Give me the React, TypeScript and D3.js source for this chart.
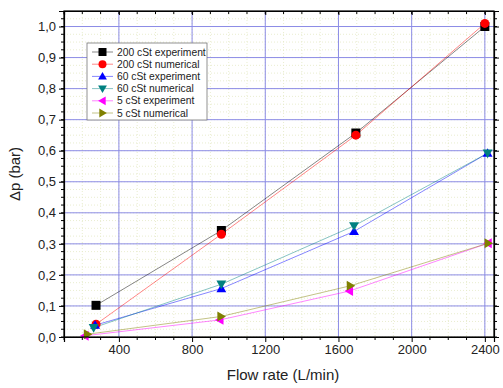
import React, { useEffect, useRef } from 'react';
import * as d3 from 'd3';

// Flow rate (L/min) and pressure drop (bar) per series
const exp200X = [275, 960, 1695, 2400];
const exp200Y = [0.102, 0.343, 0.657, 1.0];
const num200X = [275, 960, 1695, 2400];
const num200Y = [0.041, 0.331, 0.65, 1.01];
const exp60X = [270, 960, 1685, 2415];
const exp60Y = [0.038, 0.156, 0.34, 0.592];
const num60X = [262, 960, 1685, 2415];
const num60Y = [0.03, 0.17, 0.358, 0.592];
const exp5X = [215, 952, 1660, 2418];
const exp5Y = [0.004, 0.055, 0.148, 0.302];
const num5X = [228, 958, 1665, 2418];
const num5Y = [0.009, 0.066, 0.165, 0.302];

const seriesNames = [
  '200 cSt experiment',
  '200 cSt numerical',
  '60 cSt experiment',
  '60 cSt numerical',
  '5 cSt experiment',
  '5 cSt numerical',
];
const seriesColors = ['#000000', '#ff0000', '#0000ff', '#008080', '#ff00ff', '#808000'];
const seriesSymbols = ['square', 'circle', 'up', 'down', 'left', 'right'];

const xTicks = [400, 800, 1200, 1600, 2000, 2400];
const yTicks = [0, 0.1, 0.2, 0.3, 0.4, 0.5, 0.6, 0.7, 0.8, 0.9, 1.0];

const W = 503;
const H = 388;

function markerPath(kind: string, s: number): string {
  const r = s / 2;
  switch (kind) {
    case 'square':
      return `M${-r},${-r}H${r}V${r}H${-r}Z`;
    case 'circle':
      return d3.symbol(d3.symbolCircle, Math.PI * r * r)() || '';
    case 'up':
      return `M0,${-r * 1.1}L${r * 1.1},${r * 0.8}L${-r * 1.1},${r * 0.8}Z`;
    case 'down':
      return `M0,${r * 1.1}L${r * 1.1},${-r * 0.8}L${-r * 1.1},${-r * 0.8}Z`;
    case 'left':
      return `M${-r * 1.1},0L${r * 0.8},${-r * 1.1}L${r * 0.8},${r * 1.1}Z`;
    default:
      return `M${r * 1.1},0L${-r * 0.8},${-r * 1.1}L${-r * 0.8},${r * 1.1}Z`;
  }
}

const App: React.FC = () => {
  const ref = useRef<SVGSVGElement>(null);

  useEffect(() => {
    if (!ref.current) return;
    const svg = d3.select(ref.current);
    svg.selectAll('*').remove();

    const margin = { top: 11, right: 9, bottom: 51, left: 64 };
    const width = W - margin.left - margin.right;
    const height = H - margin.top - margin.bottom;
    const font = 'Liberation Sans, Arial, sans-serif';

    const x = d3.scaleLinear().domain([100, 2450]).range([0, width]);
    const y = d3.scaleLinear().domain([0, 1.05]).range([height, 0]);

    const g = svg.append('g').attr('transform', `translate(${margin.left},${margin.top})`);

    const xMinor = d3.range(100, 2450, 100);
    const yMinor = d3.range(0, 1.05, 0.025);

    // minor grid (dotted, pale)
    g.append('g')
      .selectAll('line')
      .data(xMinor)
      .join('line')
      .attr('x1', d => x(d)).attr('x2', d => x(d))
      .attr('y1', 0).attr('y2', height)
      .attr('stroke', '#e3e9c4').attr('stroke-width', 0.8).attr('stroke-dasharray', '1,2');
    g.append('g')
      .selectAll('line')
      .data(yMinor)
      .join('line')
      .attr('x1', 0).attr('x2', width)
      .attr('y1', d => y(d)).attr('y2', d => y(d))
      .attr('stroke', '#e3e9c4').attr('stroke-width', 0.8).attr('stroke-dasharray', '1,2');

    // major grid
    g.append('g')
      .selectAll('line')
      .data(xTicks)
      .join('line')
      .attr('x1', d => x(d)).attr('x2', d => x(d))
      .attr('y1', 0).attr('y2', height)
      .attr('stroke', '#8c8ce6').attr('stroke-width', 1);
    g.append('g')
      .selectAll('line')
      .data(yTicks.slice(1))
      .join('line')
      .attr('x1', 0).attr('x2', width)
      .attr('y1', d => y(d)).attr('y2', d => y(d))
      .attr('stroke', '#8c8ce6').attr('stroke-width', 1);

    // bottom axis
    const bottom = g.append('g')
      .attr('transform', `translate(0,${height})`)
      .call(d3.axisBottom(x).tickValues(xTicks).tickSize(5).tickPadding(3).tickFormat(d3.format('d')));
    bottom.append('g').selectAll('line').data(xMinor.filter(d => !xTicks.includes(d)))
      .join('line').attr('x1', d => x(d)).attr('x2', d => x(d)).attr('y1', 0).attr('y2', 3).attr('stroke', '#000');

    // left axis
    const left = g.append('g')
      .call(d3.axisLeft(y).tickValues(yTicks).tickSize(5).tickPadding(3)
        .tickFormat(d => d3.format('.1f')(d as number).replace('.', ',')));
    left.append('g').selectAll('line').data(yMinor)
      .join('line').attr('x1', 0).attr('x2', -3).attr('y1', d => y(d)).attr('y2', d => y(d)).attr('stroke', '#000');

    // top axis (ticks inward)
    const top = g.append('g')
      .call(d3.axisTop(x).tickValues(xTicks).tickSize(-4).tickFormat(() => ''));
    top.append('g').selectAll('line').data(xMinor)
      .join('line').attr('x1', d => x(d)).attr('x2', d => x(d)).attr('y1', 0).attr('y2', 3).attr('stroke', '#000');

    // right axis
    const right = g.append('g')
      .attr('transform', `translate(${width},0)`)
      .call(d3.axisRight(y).tickValues(yTicks).tickSize(5).tickFormat(() => ''));
    right.append('g').selectAll('line').data(yMinor)
      .join('line').attr('x1', 0).attr('x2', 3).attr('y1', d => y(d)).attr('y2', d => y(d)).attr('stroke', '#000');

    [bottom, left, top, right].forEach(a => {
      a.select('.domain').attr('stroke', '#000').attr('stroke-width', 1.2);
      a.selectAll('text').attr('font-family', font).attr('font-size', 13).attr('fill', '#222');
    });

    // series
    const xs = [exp200X, num200X, exp60X, num60X, exp5X, num5X];
    const ys = [exp200Y, num200Y, exp60Y, num60Y, exp5Y, num5Y];

    xs.forEach((sx, i) => {
      const pts: [number, number][] = sx.map((v, j) => [x(v), y(ys[i][j])]);
      g.append('path')
        .attr('d', d3.line()(pts))
        .attr('fill', 'none')
        .attr('stroke', seriesColors[i])
        .attr('stroke-opacity', 0.6)
        .attr('stroke-width', 0.8);
    });
    xs.forEach((sx, i) => {
      g.append('g').selectAll('path')
        .data(sx)
        .join('path')
        .attr('transform', (d, j) => `translate(${x(d)},${y(ys[i][j])})`)
        .attr('d', markerPath(seriesSymbols[i], 9))
        .attr('fill', seriesColors[i]);
    });

    // legend
    const lg = g.append('g').attr('transform', `translate(${87 - margin.left},${43 - margin.top})`);
    lg.append('rect')
      .attr('width', 120).attr('height', 77)
      .attr('fill', '#fff').attr('stroke', '#777').attr('stroke-width', 0.8);
    seriesNames.forEach((name, i) => {
      const ry = 9 + i * 12.2;
      lg.append('line')
        .attr('x1', 5).attr('x2', 26).attr('y1', ry).attr('y2', ry)
        .attr('stroke', seriesColors[i]).attr('stroke-opacity', 0.6).attr('stroke-width', 0.8);
      lg.append('path')
        .attr('transform', `translate(15.5,${ry})`)
        .attr('d', markerPath(seriesSymbols[i], 8))
        .attr('fill', seriesColors[i]);
      lg.append('text')
        .attr('x', 30).attr('y', ry).attr('dy', '0.35em')
        .attr('font-family', font).attr('font-size', 10.3).attr('fill', '#222')
        .text(name);
    });

    // frame on top
    g.append('rect')
      .attr('width', width).attr('height', height)
      .attr('fill', 'none').attr('stroke', '#000').attr('stroke-width', 1.2);

    // axis titles
    svg.append('text')
      .attr('x', 283).attr('y', 380)
      .attr('text-anchor', 'middle')
      .attr('font-family', font).attr('font-size', 15).attr('fill', '#222')
      .text('Flow rate (L/min)');
    svg.append('text')
      .attr('transform', `translate(20,${margin.top + height / 2}) rotate(-90)`)
      .attr('text-anchor', 'middle')
      .attr('font-family', font).attr('font-size', 15).attr('fill', '#222')
      .text('Δp (bar)');
  }, []);

  return (
    <svg
      ref={ref}
      width={W}
      height={H}
      style={{ position: 'absolute', left: 0, top: 0, background: '#fff' }}
    />
  );
};

export default App;
